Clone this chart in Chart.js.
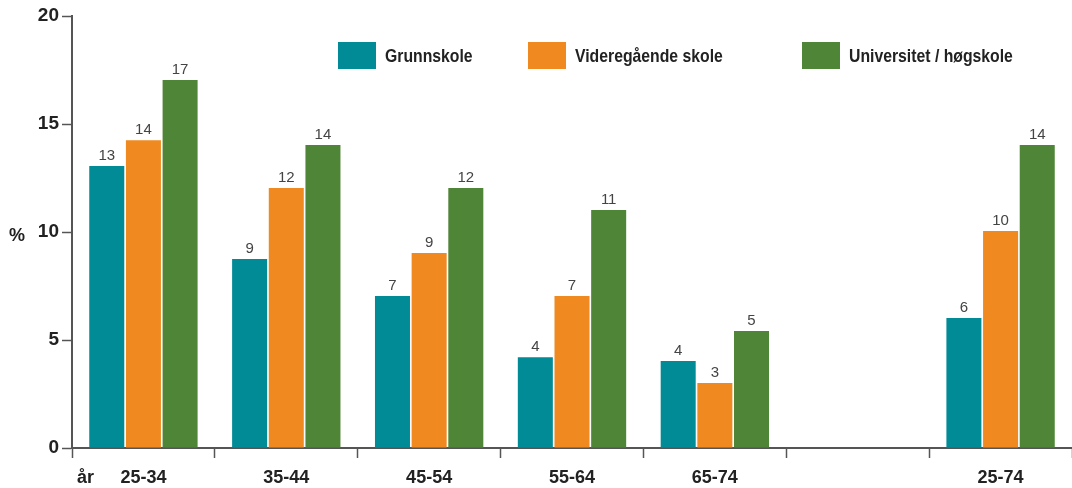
<!DOCTYPE html>
<html>
<head>
<meta charset="utf-8">
<script src="https://cdn.jsdelivr.net/npm/chart.js@4/dist/chart.umd.min.js"></script>
<style>
  html, body { margin: 0; padding: 0; background: #fff; }
  #wrap { width: 1072px; height: 488px; position: relative; }
</style>
</head>
<body>
<div id="wrap"><canvas id="eduChart" width="1072" height="488"></canvas></div>
<script>
const ageGroups = ["25-34", "35-44", "45-54", "55-64", "65-74", "", "25-74"];
const seriesNames = ["Grunnskole", "Videregående skole", "Universitet / høgskole"];
const grunnskole = [13.05, 8.75, 7.04, 4.2, 4.03, null, 6.02];
const videregaende = [14.25, 12.04, 9.03, 7.04, 3.01, null, 10.05];
const universitet = [17.04, 14.03, 12.04, 11.02, 5.42, null, 14.03];
const yTicks = [0, 5, 10, 15, 20];

const colors = ["#008b97", "#f0891f", "#4f8536"];
const axisColor = "#555";
const textColor = "#222";
const boldFont = "bold 18px 'Liberation Sans', Arial, sans-serif";
const legendFont = "bold 19px 'Liberation Sans', Arial, sans-serif";

// legend items sit at fixed spots across the top
const legendSpots = [338, 528, 802];

const valueLabels = {
    id: "valueLabels",
    afterDatasetsDraw(chart) {
        const ctx = chart.ctx;
        ctx.save();
        ctx.font = "15px 'Liberation Sans', Arial, sans-serif";
        ctx.fillStyle = "#444";
        ctx.textAlign = "center";
        ctx.textBaseline = "bottom";
        chart.data.datasets.forEach((ds, i) => {
            chart.getDatasetMeta(i).data.forEach((bar, j) => {
                const v = ds.data[j];
                if (v == null) return;
                ctx.fillText(String(Math.round(v)), bar.x, bar.y - 3);
            });
        });
        ctx.restore();
    }
};

const extras = {
    id: "extras",
    afterDraw(chart) {
        const ctx = chart.ctx;
        ctx.save();
        // legend, text squeezed to a condensed look
        ctx.textBaseline = "middle";
        ctx.textAlign = "left";
        ctx.font = legendFont;
        seriesNames.forEach((name, i) => {
            const x = legendSpots[i];
            ctx.fillStyle = colors[i];
            ctx.fillRect(x, 42, 38, 27);
            ctx.save();
            ctx.translate(x + 47, 57);
            ctx.scale(0.83, 1);
            ctx.fillStyle = textColor;
            ctx.fillText(name, 0, 0);
            ctx.restore();
        });
        // axis captions
        ctx.font = boldFont;
        ctx.fillStyle = textColor;
        ctx.textAlign = "left";
        ctx.fillText("%", 9, 236);
        ctx.fillText("år", 77, 478);
        ctx.restore();
    }
};

const ctx = document.getElementById("eduChart").getContext("2d");
new Chart(ctx, {
    type: "bar",
    data: {
        labels: ageGroups,
        datasets: [
            { label: seriesNames[0], data: grunnskole, backgroundColor: colors[0] },
            { label: seriesNames[1], data: videregaende, backgroundColor: colors[1] },
            { label: seriesNames[2], data: universitet, backgroundColor: colors[2] }
        ]
    },
    options: {
        responsive: false,
        animation: false,
        devicePixelRatio: 1,
        categoryPercentage: 0.77,
        barPercentage: 0.955,
        layout: { padding: { top: 16, right: 0, left: 0, bottom: 0 } },
        plugins: {
            legend: { display: false },
            tooltip: { enabled: false }
        },
        scales: {
            x: {
                afterFit: scale => { scale.height = 40; },
                grid: {
                    offset: true,
                    drawOnChartArea: false,
                    drawTicks: true,
                    tickLength: 10,
                    tickColor: axisColor,
                    tickWidth: 1.5
                },
                border: { color: axisColor, width: 2 },
                ticks: {
                    color: textColor,
                    font: { family: "'Liberation Sans', Arial, sans-serif", size: 18, weight: "bold" },
                    padding: 9
                }
            },
            y: {
                min: 0,
                max: 20,
                afterFit: scale => { scale.width = 72; },
                afterBuildTicks: scale => { scale.ticks = yTicks.map(v => ({ value: v })); },
                grid: {
                    drawOnChartArea: false,
                    drawTicks: true,
                    tickLength: 10,
                    tickColor: axisColor,
                    tickWidth: 1.5
                },
                border: { color: axisColor, width: 2 },
                ticks: {
                    color: textColor,
                    font: { family: "'Liberation Sans', Arial, sans-serif", size: 19, weight: "bold" },
                    padding: 3
                }
            }
        }
    },
    plugins: [valueLabels, extras]
});
</script>
</body>
</html>
